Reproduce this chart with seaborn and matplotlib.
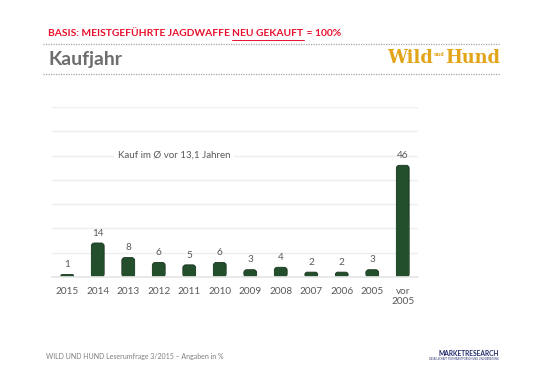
import matplotlib
matplotlib.use("Agg")
import matplotlib.pyplot as plt
import seaborn as sns
import pandas as pd
from matplotlib.lines import Line2D
from matplotlib.patches import FancyBboxPatch

categories = ["2015", "2014", "2013", "2012", "2011", "2010", "2009", "2008", "2007", "2006", "2005", "vor\n2005"]
values = [1, 14, 8, 6, 5, 6, 3, 4, 2, 2, 3, 46]
note = "Kauf im Ø vor 13,1 Jahren"
title = "Kaufjahr"
header_parts = ["BASIS: MEISTGEFÜHRTE JAGDWAFFE ", "NEU GEKAUFT", " = 100%"]
footer = "WILD UND HUND Leserumfrage 3/2015 – Angaben in %"

sns.set_theme(style="white")
plt.rcParams['font.family'] = ['Lato', 'DejaVu Sans']

df = pd.DataFrame({"Jahr": categories, "Wert": values})

W, H = 541, 380
fig = plt.figure(figsize=(W / 100, H / 100), dpi=100)
ax = fig.add_axes([52 / W, 1 - 277 / H, 366 / W, 170 / H])

sns.barplot(data=df, x="Jahr", y="Wert", ax=ax, color="#244f2d", width=0.42,
            edgecolor="#17331d", linewidth=0.6, saturation=1)

ax.set_ylim(0, 70)
ax.set_xlim(-0.5, len(categories) - 0.5)
ax.set_yticks(range(0, 71, 10))
ax.set_yticklabels([])
ax.tick_params(axis='y', length=0)
ax.yaxis.grid(True, color="#eeeeee", linewidth=1.0)
ax.set_axisbelow(True)
for s in ["top", "right", "left"]:
    ax.spines[s].set_visible(False)
ax.spines["bottom"].set_color("#e6e6e6")
ax.set_xlabel("")
ax.set_ylabel("")
ax.tick_params(axis='x', length=0, labelsize=7.2, labelcolor="#595959", pad=7)

# rounded tops (cylinder look) built from seaborn's bar patches
px_per_x = 366 / len(categories)
px_per_y = 170 / 70
aspect = px_per_x / px_per_y
for p in list(ax.patches):
    x0, w, h = p.get_x(), p.get_width(), p.get_height()
    r_px = min(3.0, h * px_per_y / 2)
    fb = FancyBboxPatch((x0, 0), w, h,
                        boxstyle=f"round,pad=0,rounding_size={r_px / px_per_x}",
                        mutation_aspect=aspect,
                        facecolor="#244f2d", edgecolor="#17331d", linewidth=0.6, zorder=p.get_zorder())
    z = p.get_zorder()
    p.remove()
    ax.add_patch(fb)
    ax.add_patch(plt.Rectangle((x0, 0), w, h / 2, facecolor="#244f2d", edgecolor="none", zorder=z))

for i, v in enumerate(values):
    ax.text(i, v + 2.2, str(v), ha="center", va="bottom", fontsize=7.2, color="#595959")

ax.text(3.5, 50, note, ha="center", va="center", fontsize=7.0,
        color="#595959", bbox=dict(facecolor="white", edgecolor="none", pad=3))

fig.canvas.draw()
r = fig.canvas.get_renderer()

def width_px(t):
    return t.get_window_extent(renderer=r).width

# Header: fit into x 48..338 px
fs = 7.5
tmp = [fig.text(0, 0, s, fontsize=fs, fontweight="bold") for s in header_parts]
tot = sum(width_px(t) for t in tmp)
for t in tmp:
    t.remove()
fs = fs * 290 / tot
xpx = 48
for k, s in enumerate(header_parts):
    t = fig.text(xpx / W, 1 - 34 / H, s, fontsize=fs, fontweight="bold",
                 color="#e8112d", ha="left", va="center")
    wpx = width_px(t)
    if k == 1:
        fig.add_artist(Line2D([xpx / W, (xpx + wpx) / W], [1 - 40 / H, 1 - 40 / H],
                              color="#e8112d", linewidth=0.7))
    xpx += wpx

fig.add_artist(Line2D([43 / W, 500 / W], [1 - 44 / H, 1 - 44 / H], color="#a6a6a6",
                      linewidth=0.9, linestyle=(0, (1, 1))))
fig.add_artist(Line2D([43 / W, 500 / W], [1 - 74 / H, 1 - 74 / H], color="#a6a6a6",
                      linewidth=0.9, linestyle=(0, (1, 1))))

t = fig.text(48 / W, 1 - 60 / H, title, fontsize=13, fontweight="bold", color="#6d6d6d",
             ha="left", va="center")
t.set_fontsize(13 * 74 / width_px(t))

# Logo: fit into x 387..500
gold = "#e2a419"
lw_ = fig.text(0, 0, "Wild", fontsize=14, fontweight="bold", family="DejaVu Serif")
lh_ = fig.text(0, 0, "Hund", fontsize=14, fontweight="bold", family="DejaVu Serif")
lu_ = fig.text(0, 0, "und", fontsize=4, fontweight="bold", family="DejaVu Serif")
tot = width_px(lw_) + width_px(lh_) + width_px(lu_) + 2
for t in (lw_, lh_, lu_):
    t.remove()
sc = 113 / tot
xpx = 387
t = fig.text(xpx / W, 1 - 58 / H, "Wild", fontsize=14 * sc, fontweight="bold",
             family="DejaVu Serif", color=gold, ha="left", va="center")
xpx += width_px(t) + 1
t = fig.text(xpx / W, 1 - 55 / H, "und", fontsize=4 * sc, fontweight="bold",
             family="DejaVu Serif", color=gold, ha="left", va="center")
xpx += width_px(t) + 1
fig.text(xpx / W, 1 - 58 / H, "Hund", fontsize=14 * sc, fontweight="bold",
         family="DejaVu Serif", color=gold, ha="left", va="center")

# Footer: fit into x 46..223
t = fig.text(46 / W, 1 - 357 / H, footer, fontsize=6, color="#7f7f7f", ha="left", va="center")
t.set_fontsize(6 * 177 / width_px(t))

t = fig.text(499 / W, 1 - 354 / H, "MARKETRESEARCH", fontsize=5.5, fontweight="bold",
             color="#1f2a6b", ha="right", va="center")
t.set_fontsize(5.5 * 61 / width_px(t))
fig.text(499 / W, 1 - 359 / H, "GESELLSCHAFT FÜR MARKTFORSCHUNG UND BERATUNG", fontsize=1.8,
         color="#1f2a6b", ha="right", va="center")

fig.savefig("out.png", dpi=100)
